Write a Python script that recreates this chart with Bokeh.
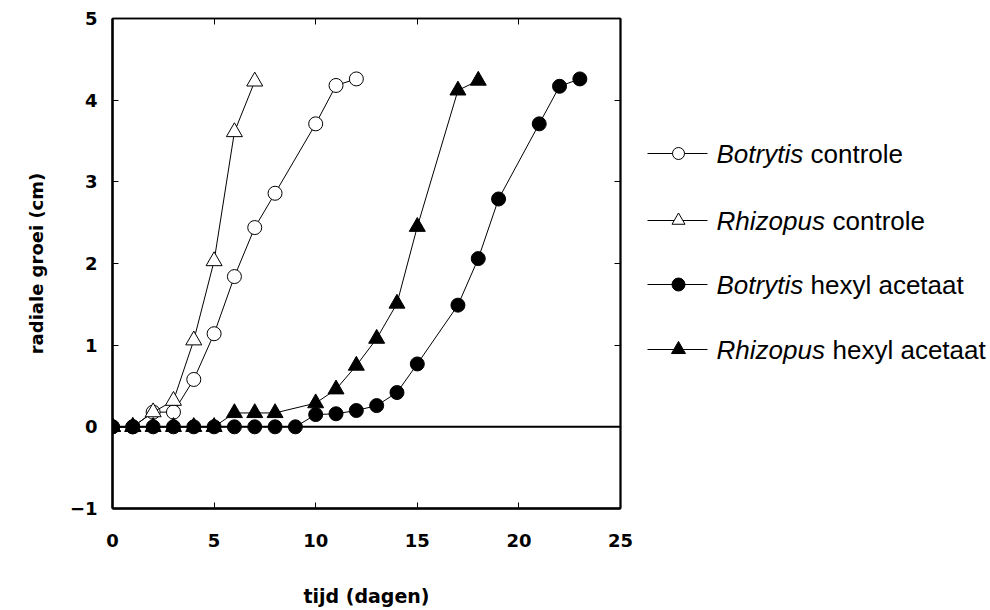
from bokeh.plotting import figure
from bokeh.models import LinearAxis, Span, FixedTicker, Range1d, CustomJSTickFormatter, ColumnDataSource
from bokeh.layouts import row
from bokeh.embed import file_html
from bokeh.resources import INLINE
from bokeh.core.properties import value

# ---- data ----
days_bc = [0, 1, 2, 3, 4, 5, 6, 7, 8, 10, 11, 12]
botrytis_controle = [0, 0, 0.18, 0.18, 0.58, 1.14, 1.84, 2.44, 2.86, 3.71, 4.18, 4.26]

days_rc = [0, 1, 2, 3, 4, 5, 6, 7]
rhizopus_controle = [0, 0, 0.18, 0.32, 1.06, 2.03, 3.61, 4.23]

days_bh = [0, 1, 2, 3, 4, 5, 6, 7, 8, 9, 10, 11, 12, 13, 14, 15, 17, 18, 19, 21, 22, 23]
botrytis_hexyl = [0, 0, 0, 0, 0, 0, 0, 0, 0, 0, 0.15, 0.16, 0.20, 0.26, 0.42, 0.77,
                  1.49, 2.06, 2.79, 3.71, 4.17, 4.26]

days_rh = [0, 1, 2, 3, 4, 5, 6, 7, 8, 10, 11, 12, 13, 14, 15, 17, 18]
rhizopus_hexyl = [0, 0, 0, 0, 0, 0, 0.17, 0.17, 0.17, 0.29, 0.46, 0.75, 1.08, 1.51,
                  2.45, 4.12, 4.24]

x_ticks = [0, 5, 10, 15, 20, 25]
y_ticks = [-1, 0, 1, 2, 3, 4, 5]

legend_species = ["Botrytis", "Rhizopus", "Botrytis", "Rhizopus"]
legend_rest = ["controle", "controle", "hexyl acetaat", "hexyl acetaat"]
legend_markers = ["circle", "triangle", "circle", "triangle"]
legend_fill = ["white", "white", "black", "black"]

TICK_FONT = "DejaVu Sans"
H = 610
TOP, BOTTOM = 18, 102

# ---- main plot ----
p = figure(width=644, height=H, x_range=Range1d(0, 25), y_range=Range1d(-1, 5),
           output_backend="svg", toolbar_location=None,
           min_border_left=112, min_border_right=24, min_border_top=TOP, min_border_bottom=BOTTOM)
p.xgrid.visible = False
p.ygrid.visible = False
p.outline_line_color = "black"
p.outline_line_width = 1.5
p.background_fill_color = "white"
p.border_fill_color = "white"

for ax, ticks in ((p.xaxis[0], x_ticks), (p.yaxis[0], y_ticks)):
    ax.ticker = FixedTicker(ticks=ticks)
    ax.minor_tick_line_color = None
    ax.major_tick_in = 6
    ax.major_tick_out = 0
    ax.axis_line_width = 2.5
    ax.major_label_text_font = TICK_FONT
    ax.major_label_text_font_style = "bold"
    ax.major_label_text_font_size = "18px"
    ax.major_label_text_color = "black"
    ax.axis_label_text_font = TICK_FONT
    ax.axis_label_text_font_style = "bold"
    ax.axis_label_text_color = "black"

p.xaxis[0].axis_label = "tijd (dagen)"
p.xaxis[0].axis_label_text_font_size = "19px"
p.xaxis[0].major_label_standoff = 25
p.xaxis[0].axis_label_standoff = 35
p.yaxis[0].axis_label = "radiale groei (cm)"
p.yaxis[0].axis_label_text_font_size = "18px"
p.yaxis[0].major_label_standoff = 15
p.yaxis[0].axis_label_standoff = 20

blank = CustomJSTickFormatter(code="return ''")
top_ax = LinearAxis(ticker=FixedTicker(ticks=x_ticks), formatter=blank,
                    major_tick_in=6, major_tick_out=0, minor_tick_line_color=None,
                    axis_line_width=1.5)
right_ax = LinearAxis(ticker=FixedTicker(ticks=y_ticks), formatter=blank,
                      major_tick_in=6, major_tick_out=0, minor_tick_line_color=None,
                      axis_line_width=2)
p.add_layout(top_ax, "above")
p.add_layout(right_ax, "right")

p.add_layout(Span(location=0, dimension="width", line_color="black", line_width=2,
                  level="underlay"))

# controls (open markers)
p.line(days_bc, botrytis_controle, line_color="black", line_width=1)
p.scatter(days_bc, botrytis_controle, marker="circle", size=14,
          fill_color="white", line_color="black", line_width=1)
p.line(days_rc, rhizopus_controle, line_color="black", line_width=1)
p.scatter(days_rc, rhizopus_controle, marker="triangle", size=16,
          fill_color="white", line_color="black", line_width=1)
# hexyl acetaat (filled markers)
p.line(days_bh, botrytis_hexyl, line_color="black", line_width=1)
p.scatter(days_bh, botrytis_hexyl, marker="circle", size=14,
          fill_color="black", line_color="black")
p.line(days_rh, rhizopus_hexyl, line_color="black", line_width=1)
p.scatter(days_rh, rhizopus_hexyl, marker="triangle", size=16,
          fill_color="black", line_color="black")

# ---- legend panel (page-pixel coordinates; frame aligned with main plot) ----
lg = figure(width=990 - 644, height=H, x_range=Range1d(644, 990),
            y_range=Range1d(H - BOTTOM, TOP),
            output_backend="svg", toolbar_location=None,
            x_axis_location=None, y_axis_location=None,
            min_border_left=0, min_border_right=0, min_border_top=TOP, min_border_bottom=BOTTOM)
lg.xgrid.visible = False
lg.ygrid.visible = False
lg.outline_line_color = None
lg.background_fill_color = "white"
lg.border_fill_color = "white"

row_y = [153, 220, 284, 349]
gap = [94, 116, 94, 116]
src = ColumnDataSource(dict(
    y=row_y, x0=[647] * 4, x1=[707] * 4, xm=[678] * 4, xt=[716] * 4,
    xr=[716 + g for g in gap],
    species=legend_species, rest=legend_rest,
    marker=legend_markers, fill=legend_fill,
    size=[12, 13, 13, 14],
))
lg.segment(x0="x0", y0="y", x1="x1", y1="y", source=src, line_color="black", line_width=1)
lg.scatter(x="xm", y="y", marker="marker", size="size", fill_color="fill",
           line_color="black", line_width=1, source=src)
lg.text(x="xt", y="y", text="species", source=src, text_font=value("Liberation Sans"),
        text_font_style="italic", text_font_size="26px", text_baseline="middle",
        text_color="black")
lg.text(x="xr", y="y", text="rest", source=src, text_font=value("Liberation Sans"),
        text_font_size="26px", text_baseline="middle", text_color="black")

layout = row(p, lg)
open("out.html", "w").write(file_html(layout, INLINE))
